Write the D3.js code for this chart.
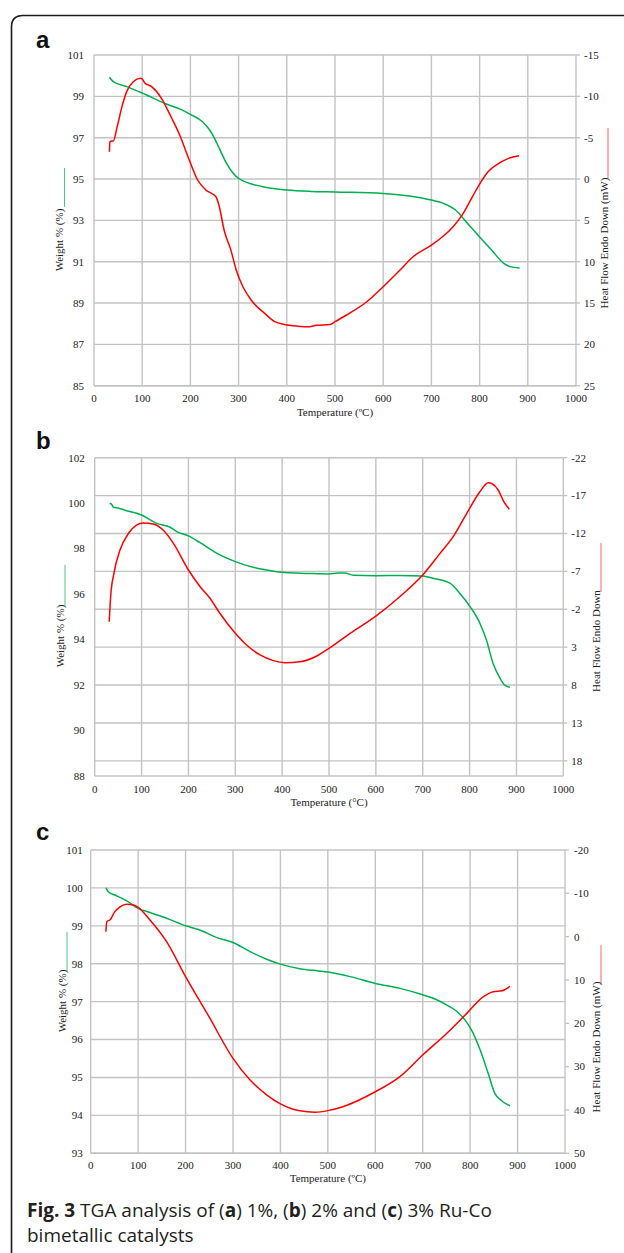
<!DOCTYPE html>
<html>
<head>
<meta charset="utf-8">
<script src="https://cdn.jsdelivr.net/npm/d3@7"></script>
<style>
  html, body { margin: 0; padding: 0; background: #fff; }
  svg { display: block; }
</style>
</head>
<body>
<svg id="chart" width="624" height="1253"></svg>
<script>
// ---------- DATA ----------
const tempTicks = [0, 100, 200, 300, 400, 500, 600, 700, 800, 900, 1000];

const weightTicksA = [85, 87, 89, 91, 93, 95, 97, 99, 101];
const heatTicksA = [-15, -10, -5, 0, 5, 10, 15, 20, 25];
const weightTicksB = [88, 90, 92, 94, 96, 98, 100, 102];
const heatTicksB = [-22, -17, -12, -7, -2, 3, 8, 13, 18];
const weightTicksC = [93, 94, 95, 96, 97, 98, 99, 100, 101];
const heatTicksC = [-20, -10, 0, 10, 20, 30, 40, 50];

const weightA = [[32,99.92],[40,99.71],[68,99.47],[100,99.16],[150,98.63],[180,98.37],[200,98.13],[225,97.77],[240,97.37],[250,96.97],[260,96.48],[275,95.76],[300,95.03],[350,94.63],[400,94.47],[450,94.4],[500,94.37],[600,94.3],[650,94.19],[700,93.98],[725,93.82],[750,93.5],[775,92.85],[800,92.2],[825,91.56],[850,90.92],[865,90.75],[883,90.7]];
const heatA = [[32,-3.3],[33,-4.5],[36,-4.6],[40,-4.6],[48,-6.3],[58,-8.75],[68,-10.6],[82,-11.8],[96,-12.2],[100,-12.1],[105,-11.65],[119,-11.2],[140,-9.76],[160,-7.5],[178,-5.3],[195,-2.7],[215,0.12],[232,1.33],[253,2.14],[260,3.35],[270,6.2],[284,8.6],[295,11.0],[309,13.03],[326,14.64],[354,16.25],[375,17.26],[395,17.6],[423,17.8],[447,17.87],[461,17.7],[490,17.6],[500,17.26],[524,16.45],[566,14.85],[600,13.03],[635,11.0],[662,9.4],[700,7.99],[725,6.9],[745,5.77],[766,4.15],[787,1.94],[801,0.52],[818,-0.9],[842,-1.97],[860,-2.5],[882,-2.82]];

const weightB = [[32,100.0],[36,99.95],[40,99.82],[47,99.8],[68,99.67],[100,99.48],[132,99.11],[161,98.94],[175,98.75],[200,98.56],[225,98.26],[260,97.8],[300,97.43],[338,97.18],[367,97.06],[400,96.96],[438,96.92],[474,96.9],[498,96.89],[520,96.93],[534,96.93],[552,96.83],[600,96.81],[651,96.82],[700,96.8],[722,96.7],[758,96.48],[779,96.04],[801,95.45],[822,94.72],[836,93.98],[850,92.96],[865,92.3],[875,92.0],[886,91.9]];
const heatB = [[31,-0.36],[34,-3.66],[41,-6.75],[54,-9.82],[72,-12.0],[89,-13.1],[104,-13.4],[125,-13.25],[146,-12.46],[168,-10.7],[200,-7.18],[225,-4.98],[246,-3.45],[267,-1.47],[300,1.17],[324,2.71],[353,4.03],[381,4.78],[406,5.05],[438,4.93],[474,4.17],[500,3.15],[545,1.17],[600,-1.1],[651,-3.66],[700,-6.52],[737,-9.38],[765,-11.58],[794,-14.66],[822,-17.51],[840,-18.7],[847,-18.6],[861,-17.74],[873,-16.2],[885,-15.19]];

const weightC = [[32,100.0],[37,99.9],[55,99.79],[76,99.66],[100,99.46],[125,99.35],[160,99.2],[200,99.0],[230,98.89],[266,98.69],[300,98.56],[336,98.32],[371,98.12],[400,97.99],[441,97.87],[480,97.81],[500,97.78],[547,97.66],[600,97.48],[652,97.35],[700,97.18],[726,97.07],[751,96.91],[772,96.74],[789,96.52],[803,96.25],[821,95.73],[838,95.11],[852,94.58],[867,94.38],[884,94.25]];
const heatC = [[32,-1.15],[34,-3.46],[41,-3.9],[51,-5.77],[62,-6.9],[76,-7.46],[90,-7.3],[100,-6.77],[125,-3.85],[160,1.15],[200,9.23],[250,18.6],[300,28.1],[336,33.1],[371,36.5],[400,38.6],[441,40.2],[473,40.5],[500,40.15],[533,39.2],[600,35.8],[652,32.3],[700,27.3],[751,22.3],[793,17.7],[828,13.85],[849,12.7],[867,12.5],[884,11.5]];

const panelLetters = ["a", "b", "c"];
const xTitles = ["Temperature (\u00BAC)", "Temperature (\u00B0C)", "Temperature (\u00BAC)"];
const leftTitle = "Weight % (%)";
const rightTitles = ["Heat Flow Endo Down (mW)", "Heat Flow Endo Down", "Heat Flow Endo Down (mW)"];

// ---------- LAYOUT ----------
const GREEN = "#00b050", RED = "#ff0000", GRID = "#c3c3c3";
const SERIF = "'Liberation Serif', 'Times New Roman', serif";

const panels = [
  { letter: panelLetters[0], L: 94, R: 576, T: 55, B: 385.7,
    wDom: [85, 101], hDom: [-15, 25], wTicks: weightTicksA, hTicks: heatTicksA, grid: "left",
    weight: weightA, heat: heatA, xTitle: xTitles[0], rTitle: rightTitles[0],
    letterPos: [36, 48], lt: { x: 59, y: 240, ln: [64.5, 168, 207] }, rt: { x: 604, y: 243, ln: [608, 128, 178] },
    tickY: 402, titleY: 416, lOff: 10, rOff: 8 },
  { letter: panelLetters[1], L: 94.7, R: 563.3, T: 457.7, B: 776,
    wDom: [88, 102], hDom: [-22, 20], wTicks: weightTicksB, hTicks: heatTicksB, grid: "right",
    weight: weightB, heat: heatB, xTitle: xTitles[1], rTitle: rightTitles[1],
    letterPos: [36, 449], lt: { x: 60, y: 636, ln: [65, 565, 607] }, rt: { x: 596, y: 641, ln: [601, 543, 592] },
    tickY: 793, titleY: 806, lOff: 10, rOff: 8 },
  { letter: panelLetters[2], L: 90.7, R: 565, T: 850, B: 1153.3,
    wDom: [93, 101], hDom: [-20, 50], wTicks: weightTicksC, hTicks: heatTicksC, grid: "left",
    weight: weightC, heat: heatC, xTitle: xTitles[2], rTitle: rightTitles[2],
    letterPos: [36, 840], lt: { x: 62, y: 1001, ln: [67, 932, 972] }, rt: { x: 596, y: 1047, ln: [601, 945, 985] },
    tickY: 1169, titleY: 1182, lOff: 8, rOff: 9 }
];

const svg = d3.select("#chart");

// outer frame
svg.append("path")
  .attr("d", "M11.5,1253 V27 Q11.5,15.5 23,15.5 H624")
  .attr("fill", "none").attr("stroke", "#1a1a1a").attr("stroke-width", 1.6);

panels.forEach(p => {
  const g = svg.append("g");
  const x = d3.scaleLinear().domain([0, 1000]).range([p.L, p.R]);
  const yL = d3.scaleLinear().domain(p.wDom).range([p.B, p.T]);
  const yR = d3.scaleLinear().domain(p.hDom).range([p.T, p.B]);

  // vertical grid
  g.append("g").selectAll("line").data(tempTicks.filter(t => t > 0 && t < 1000)).join("line")
    .attr("x1", d => x(d)).attr("x2", d => x(d)).attr("y1", p.T).attr("y2", p.B)
    .attr("stroke", GRID).attr("stroke-width", 1.4);

  // horizontal grid
  const gridVals = p.grid === "left" ? p.wTicks.map(v => yL(v)) : p.hTicks.map(v => yR(v));
  g.append("g").selectAll("line").data(gridVals).join("line")
    .attr("x1", p.L).attr("x2", p.R).attr("y1", d => d).attr("y2", d => d)
    .attr("stroke", GRID).attr("stroke-width", 1.4);

  // axes lines
  g.append("line").attr("x1", p.L).attr("x2", p.L).attr("y1", p.T).attr("y2", p.B).attr("stroke", GRID).attr("stroke-width", 1.4);
  g.append("line").attr("x1", p.R).attr("x2", p.R).attr("y1", p.T).attr("y2", p.B).attr("stroke", GRID).attr("stroke-width", 1.4);
  g.append("line").attr("x1", p.L).attr("x2", p.R).attr("y1", p.B).attr("y2", p.B).attr("stroke", GRID).attr("stroke-width", 1.4);

  // right ticks
  g.append("g").selectAll("line").data(p.hTicks).join("line")
    .attr("x1", p.R).attr("x2", p.R + 4).attr("y1", d => yR(d)).attr("y2", d => yR(d))
    .attr("stroke", GRID).attr("stroke-width", 1.4);

  const txt = (sel) => sel.attr("font-family", SERIF).attr("font-size", 11).attr("fill", "#222");

  // x tick labels
  g.append("g").selectAll("text").data(tempTicks).join("text")
    .attr("x", d => x(d)).attr("y", p.tickY).attr("text-anchor", "middle")
    .text(d => d).call(txt);

  // left tick labels
  g.append("g").selectAll("text").data(p.wTicks).join("text")
    .attr("x", p.L - p.lOff).attr("y", d => yL(d)).attr("dy", "0.35em").attr("text-anchor", "end")
    .text(d => d).call(txt);

  // right tick labels
  g.append("g").selectAll("text").data(p.hTicks).join("text")
    .attr("x", p.R + p.rOff).attr("y", d => yR(d)).attr("dy", "0.35em").attr("text-anchor", "start")
    .text(d => d).call(txt);

  // x title
  g.append("text").attr("x", (p.L + p.R) / 2).attr("y", p.titleY).attr("text-anchor", "middle")
    .text(p.xTitle).call(txt);

  // left title + legend line
  g.append("text").attr("transform", `translate(${p.lt.x},${p.lt.y}) rotate(-90)`)
    .attr("text-anchor", "middle").attr("dy", "0.35em").text(leftTitle).call(txt);
  g.append("line").attr("x1", p.lt.ln[0]).attr("x2", p.lt.ln[0]).attr("y1", p.lt.ln[1]).attr("y2", p.lt.ln[2])
    .attr("stroke", GREEN).attr("stroke-width", 1).attr("opacity", 0.7);

  // right title + legend line
  g.append("text").attr("transform", `translate(${p.rt.x},${p.rt.y}) rotate(-90)`)
    .attr("text-anchor", "middle").attr("dy", "0.35em").text(p.rTitle).call(txt);
  g.append("line").attr("x1", p.rt.ln[0]).attr("x2", p.rt.ln[0]).attr("y1", p.rt.ln[1]).attr("y2", p.rt.ln[2])
    .attr("stroke", RED).attr("stroke-width", 1).attr("opacity", 0.6);

  // series
  const lineW = d3.line().x(d => x(d[0])).y(d => yL(d[1])).curve(d3.curveMonotoneX);
  const lineH = d3.line().x(d => x(d[0])).y(d => yR(d[1])).curve(d3.curveMonotoneX);
  g.append("path").attr("d", lineW(p.weight)).attr("fill", "none").attr("stroke", GREEN).attr("stroke-width", 1.5);
  g.append("path").attr("d", lineH(p.heat)).attr("fill", "none").attr("stroke", RED).attr("stroke-width", 1.5);

  // panel letter
  g.append("text").attr("x", p.letterPos[0]).attr("y", p.letterPos[1])
    .attr("font-family", "'Liberation Sans', Arial, sans-serif").attr("font-weight", "bold")
    .attr("font-size", 24).attr("fill", "#111").text(p.letter);
});

// caption
const cap = svg.append("text").attr("x", 27).attr("y", 1217)
  .attr("font-family", "'Open Sans', 'Noto Sans', sans-serif").attr("font-size", 19).attr("fill", "#231f20");
const capParts = [["Fig. 3", true], [" TGA analysis of (", false], ["a", true], [") 1%, (", false], ["b", true], [") 2% and (", false], ["c", true], [") 3% Ru-Co", false]];
capParts.forEach(([t, b]) => cap.append("tspan").attr("font-weight", b ? "bold" : "normal").text(t));
svg.append("text").attr("x", 27).attr("y", 1242)
  .attr("font-family", "'Open Sans', 'Noto Sans', sans-serif").attr("font-size", 19).attr("fill", "#231f20")
  .text("bimetallic catalysts");
</script>
</body>
</html>
